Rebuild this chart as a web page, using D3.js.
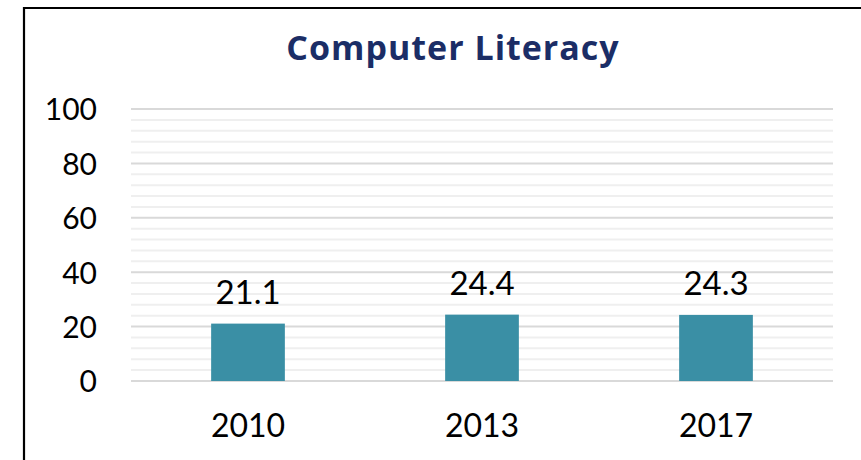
<!DOCTYPE html>
<html><head><meta charset="utf-8">
<script src="https://cdn.jsdelivr.net/npm/d3@7"></script>
<style>body{margin:0;background:#fff}svg{display:block}text{font-family:Lato,"Open Sans",sans-serif}</style>
</head><body>
<svg id="c" width="861" height="460"></svg>
<script>
const categories = ["2010", "2013", "2017"];
const values = [21.1, 24.4, 24.3];
const valueLabels = ["21.1", "24.4", "24.3"];
const yTicks = [0, 20, 40, 60, 80, 100];
const minorTicks = d3.range(0, 101, 4);
const title = "Computer Literacy";

const svg = d3.select("#c");
const plotL = 131, plotR = 833, plotT = 109, plotB = 381;

// frame
svg.append("path").attr("d", "M24,470 L24,8 L870,8").attr("fill", "none").attr("stroke", "#000").attr("stroke-width", 2.2);

const x = d3.scaleBand().domain(categories).range([plotL, plotR]).paddingInner(0.685).paddingOuter(0.3425);
const y = d3.scaleLinear().domain([0, 100]).range([plotB, plotT]);

// minor grid
svg.append("g").selectAll("line").data(minorTicks.filter(t => t % 20 !== 0)).join("line")
  .attr("x1", plotL).attr("x2", plotR).attr("y1", d => y(d)).attr("y2", d => y(d))
  .attr("stroke", "#efefef").attr("stroke-width", 2);
// major grid
svg.append("g").selectAll("line").data(yTicks).join("line")
  .attr("x1", plotL).attr("x2", plotR).attr("y1", d => y(d)).attr("y2", d => y(d))
  .attr("stroke", "#d9d9d9").attr("stroke-width", 2);

// y axis
const ya = svg.append("g").attr("transform", `translate(97,0)`)
  .call(d3.axisLeft(y).tickValues(yTicks).tickSize(0).tickPadding(0));
ya.select(".domain").remove();
ya.selectAll("text").attr("font-size", 30).attr("fill", "#000").attr("dy", "0.36em");

// x axis
const xa = svg.append("g").attr("transform", `translate(0,${plotB})`)
  .call(d3.axisBottom(x).tickSize(0).tickPadding(0));
xa.select(".domain").remove();
xa.selectAll("text").attr("font-size", 32).attr("fill", "#000").attr("dy", 0).attr("y", 56);

// bars
svg.append("g").selectAll("rect").data(values).join("rect")
  .attr("x", (d, i) => x(categories[i])).attr("width", x.bandwidth())
  .attr("y", d => y(d)).attr("height", d => y(0) - y(d))
  .attr("fill", "#3a8fa5");

// value labels
svg.append("g").selectAll("text").data(values).join("text")
  .attr("x", (d, i) => x(categories[i]) + x.bandwidth() / 2)
  .attr("y", d => y(d) - 20)
  .attr("text-anchor", "middle").attr("font-size", 33).attr("fill", "#000")
  .text((d, i) => valueLabels[i]);

// title
svg.append("text").attr("x", 453).attr("y", 60).attr("text-anchor", "middle")
  .style("font-family", "'Open Sans', sans-serif").style("letter-spacing", "1px")
  .attr("font-size", 34).attr("font-weight", "bold").attr("fill", "#1b2d66").text(title);
</script>
</body></html>
